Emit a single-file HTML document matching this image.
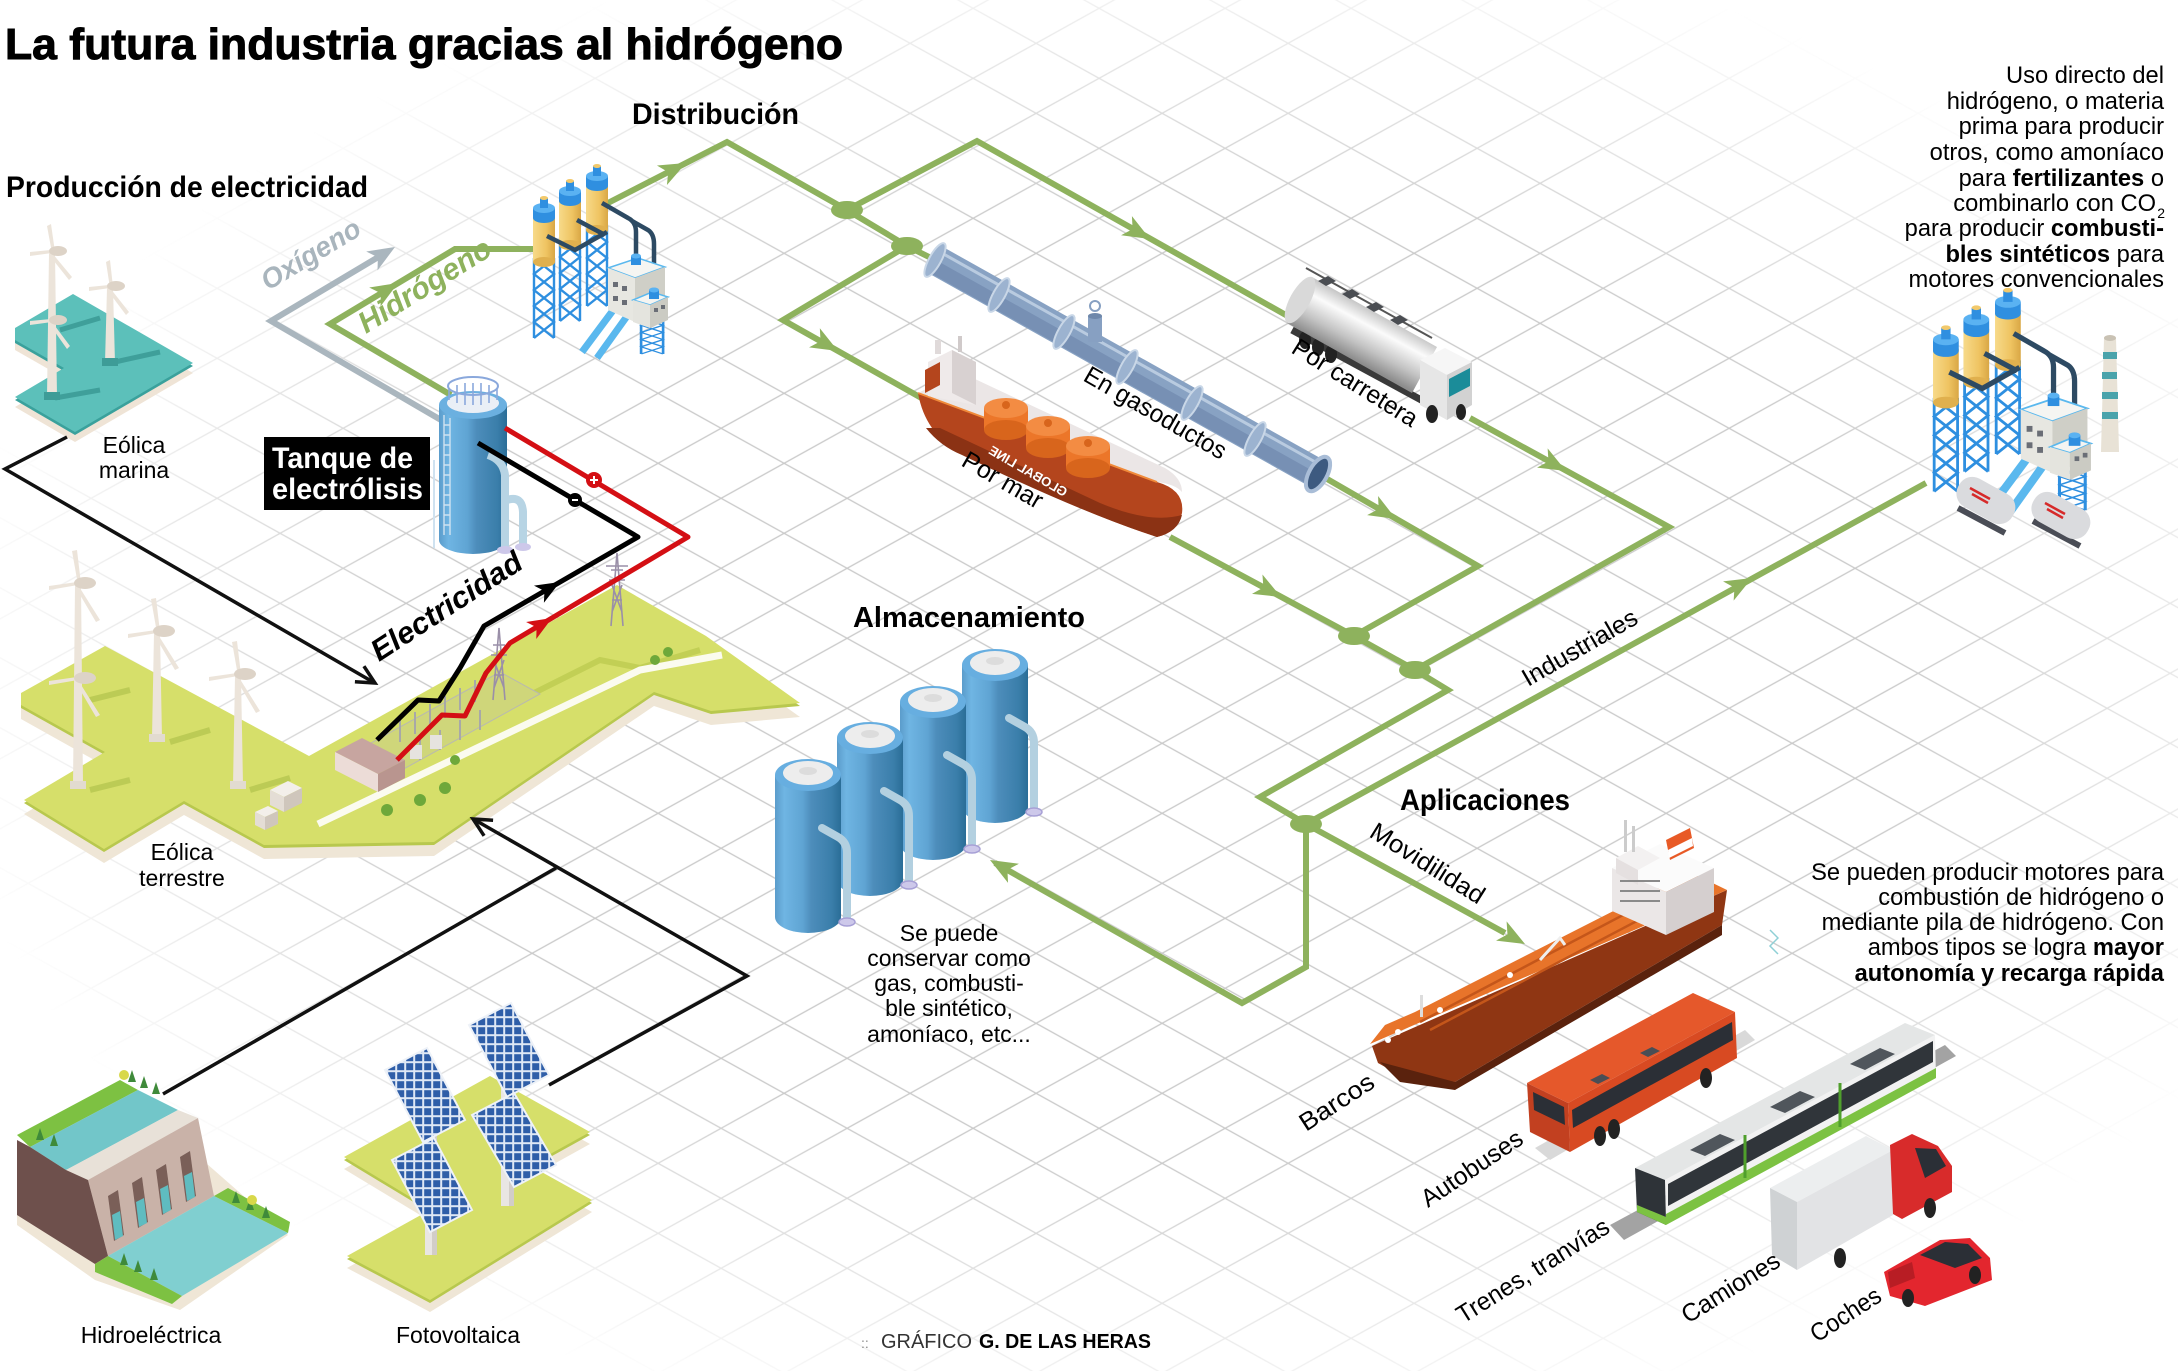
<!DOCTYPE html>
<html><head><meta charset="utf-8"><style>
html,body{margin:0;padding:0;background:#fff;}
svg{display:block;}
text{font-family:"Liberation Sans",Arial,sans-serif;}
</style></head><body>
<svg width="2178" height="1371" viewBox="0 0 2178 1371" xmlns="http://www.w3.org/2000/svg">
<defs>
<pattern id="grid" width="126" height="70" patternUnits="userSpaceOnUse" patternTransform="translate(28.1,43.3)">
<path d="M0,0 L126,70 M0,70 L126,0" stroke="#c9c9c9" stroke-width="1.3" fill="none"/>
</pattern>
<radialGradient id="fade" cx="0.53" cy="0.5" r="0.56">
<stop offset="0" stop-color="#fff"/><stop offset="0.62" stop-color="#fff"/><stop offset="1" stop-color="#000"/>
</radialGradient>
<mask id="gm"><rect width="2178" height="1371" fill="url(#fade)"/></mask>
<linearGradient id="bl" x1="0" y1="0" x2="1" y2="0">
<stop offset="0" stop-color="#5b9ccb"/><stop offset="0.14" stop-color="#6fb5e3"/><stop offset="0.42" stop-color="#5fa4d3"/><stop offset="0.55" stop-color="#4d8dbb"/><stop offset="0.86" stop-color="#3a7eaa"/><stop offset="1" stop-color="#2a6d97"/>
</linearGradient>
<linearGradient id="yel" x1="0" y1="0" x2="1" y2="0">
<stop offset="0" stop-color="#f7da8a"/><stop offset="0.6" stop-color="#efc462"/><stop offset="1" stop-color="#d9a745"/>
</linearGradient>
<linearGradient id="silver" gradientUnits="userSpaceOnUse" x1="1312" y1="277" x2="1287" y2="323">
<stop offset="0" stop-color="#c4c4c4"/><stop offset="0.3" stop-color="#fbfbfb"/><stop offset="0.7" stop-color="#c2c2c2"/><stop offset="1" stop-color="#8d8d8d"/>
</linearGradient>
<pattern id="solar" width="9" height="9" patternUnits="userSpaceOnUse">
<rect width="9" height="9" fill="#dfe8f5"/><rect x="1.2" y="1.2" width="7" height="7" fill="#2f5ea8"/>
</pattern>
<path id="ah" d="M0,0 L-27,-11 L-20,0 L-27,11 Z"/>
<path id="lat" d="M1,0V80 M21,0V80 M1,0L21,16L1,32L21,48L1,64L21,80 M21,0L1,16L21,32L1,48L21,64L1,80" stroke="#2e8fe0" stroke-width="2.4" fill="none"/>
<g id="silo">
<rect x="-11" y="6" width="22" height="46" fill="url(#yel)"/>
<ellipse cx="0" cy="52" rx="11" ry="5" fill="#e0b04e"/>
<path d="M-11,-2 L-11,8 A11,5 0 0 0 11,8 L11,-2 Z" fill="#2f8fe0"/>
<ellipse cx="0" cy="-2" rx="11" ry="5" fill="#5ab2f2"/>
<rect x="-4" y="-12" width="8" height="10" fill="#2f8fe0"/>
<ellipse cx="0" cy="-12" rx="4" ry="2" fill="#f2c96b"/>
</g>
<g id="stank">
<path d="M-33,0 V142 A33,16 0 0 0 33,142 V0 Z" fill="url(#bl)"/>
<ellipse cx="0" cy="0" rx="33" ry="16" fill="#67aee0"/>
<ellipse cx="0" cy="-2" rx="25" ry="12" fill="#ededed"/>
<ellipse cx="0" cy="-4" rx="9" ry="4" fill="#dcdcdc"/>
<path d="M14,53 L30,62 Q39,67 39,78 L39,145" stroke="#b3d0e0" stroke-width="8" fill="none" stroke-linecap="round"/>
<ellipse cx="39" cy="147" rx="8" ry="4" fill="#cdc8ea" stroke="#a7a0d6" stroke-width="1.5"/>
</g>
<g id="factory">
<use href="#lat" x="533" y="258"/>
<use href="#lat" x="559" y="241"/>
<use href="#lat" x="586" y="226"/>
<use href="#silo" x="544" y="210"/>
<use href="#silo" x="570" y="193"/>
<use href="#silo" x="597" y="178"/>
<path d="M547,236 L575,250 L607,232 M577,220 L605,235 M602,203 L628,218 Q636,222 636,232 L636,262 M632,221 L648,230 Q654,234 654,244 L654,294" stroke="#2d4a63" stroke-width="4.5" fill="none"/>
<path d="M582,352 L617,305 M597,358 L630,312" stroke="#5ab8ee" stroke-width="7" fill="none"/>
<use href="#lat" x="640" y="318" transform="translate(640,318) scale(1.1,0.45) translate(-640,-318)"/>
<polygon points="608,268 638,258 665,267 635,278" fill="#f5f5f2" stroke="#5ab8ee" stroke-width="1.5"/>
<polygon points="608,268 635,278 635,322 608,310" fill="#e7e7e1"/>
<polygon points="635,278 665,267 665,312 635,322" fill="#cfcfc7"/>
<rect x="613" y="282" width="5" height="5" fill="#6a6e76"/><rect x="622" y="286" width="5" height="5" fill="#6a6e76"/>
<rect x="613" y="296" width="5" height="5" fill="#6a6e76"/><rect x="622" y="300" width="5" height="5" fill="#6a6e76"/>
<polygon points="633,300 652,292 668,297 650,305" fill="#f5f5f2" stroke="#5ab8ee" stroke-width="1.5"/>
<polygon points="633,300 650,305 650,328 633,322" fill="#e4e4de"/>
<polygon points="650,305 668,297 668,320 650,328" fill="#cbcbc3"/>
<rect x="654" y="308" width="4" height="4" fill="#6a6e76"/><rect x="661" y="305" width="4" height="4" fill="#6a6e76"/>
<rect x="631" y="256" width="10" height="9" fill="#2f8fe0"/><ellipse cx="636" cy="256" rx="5" ry="2.5" fill="#5ab2f2"/>
<rect x="649" y="290" width="10" height="9" fill="#2f8fe0"/><ellipse cx="654" cy="290" rx="5" ry="2.5" fill="#5ab2f2"/>
</g>
</defs>

<rect width="2178" height="1371" fill="#fff"/>
<rect width="2178" height="1371" fill="url(#grid)" mask="url(#gm)"/>

<!-- ============ TITLES ============ -->
<text x="5" y="59" font-size="44" font-weight="bold" stroke="#000" stroke-width="1" textLength="838" lengthAdjust="spacingAndGlyphs">La futura industria gracias al hidrógeno</text>
<text x="6" y="197" font-size="30" font-weight="bold" textLength="362" lengthAdjust="spacingAndGlyphs">Producción de electricidad</text>
<text x="632" y="124" font-size="30" font-weight="bold" textLength="167" lengthAdjust="spacingAndGlyphs">Distribución</text>
<text x="853" y="627" font-size="29" font-weight="bold" textLength="232" lengthAdjust="spacingAndGlyphs">Almacenamiento</text>
<text x="1400" y="810" font-size="30" font-weight="bold" textLength="170" lengthAdjust="spacingAndGlyphs">Aplicaciones</text>

<!-- ============ MARINA PLATES ============ -->
<g>
<polygon points="15,328 73,294 193,363 75,432 15,397 64,368 15,340" transform="translate(0,10)" fill="#efe4d6"/>
<polygon points="15,328 73,294 193,363 75,432 15,397 64,368 15,340" transform="translate(0,3)" fill="#3aa19c"/>
<polygon points="15,328 73,294 193,363 75,432 15,397 64,368 15,340" fill="#5cc0ba"/>
<path d="M60,330 L100,318 M115,362 L160,352 M55,398 L100,390" stroke="#3f9f9a" stroke-width="5" fill="none"/>
</g>
<!-- marina turbines -->
<g fill="#ece4da">
<polygon points="49,253 55,253 57,397 47,397"/>
<polygon points="107,288 113,288 115,363 105,363"/>
<rect x="44" y="392" width="16" height="8" fill="#3e9c97"/>
<rect x="102" y="358" width="16" height="8" fill="#3e9c97"/>
<polygon points="52,253 47,226 51,224 55,252"/>
<polygon points="52,253 30,256 30,252 51,250"/>
<polygon points="52,253 72,277 69,280 50,256"/>
<ellipse cx="58" cy="251" rx="9" ry="5" fill="#ddd3c7"/>
<polygon points="110,288 106,262 110,260 113,287"/>
<polygon points="110,288 89,291 89,287 109,285"/>
<polygon points="110,288 129,312 126,315 108,291"/>
<ellipse cx="116" cy="286" rx="9" ry="5" fill="#ddd3c7"/>
<polygon points="52,322 30,325 30,321 51,319"/>
<polygon points="52,322 70,346 67,349 50,325"/>
<ellipse cx="58" cy="320" rx="9" ry="5" fill="#ddd3c7"/>
</g>
<text x="134" y="453" font-size="23" text-anchor="middle">Eólica</text>
<text x="134" y="478" font-size="23" text-anchor="middle">marina</text>

<!-- ============ LAND (terrestre) ============ -->
<g>
<polygon points="21,693 105,646 309,756 617,585 706,636 800,703 711,711 654,692 434,842 264,845 184,801 104,849 24,800 105,752 21,705" transform="translate(0,14)" fill="#efe6d6"/>
<polygon points="21,693 105,646 309,756 617,585 706,636 800,703 711,711 654,692 434,842 264,845 184,801 104,849 24,800 105,752 21,705" transform="translate(0,3)" fill="#b8c84e"/>
<polygon points="21,693 105,646 309,756 617,585 706,636 800,703 711,711 654,692 434,842 264,845 184,801 104,849 24,800 105,752 21,705" fill="#d6df6a"/>
<path d="M520,700 L600,660 L640,668 L700,650" stroke="#c2cf55" stroke-width="6" fill="none"/>
<polyline points="318,824 640,670 722,655" stroke="#fbfbef" stroke-width="7" fill="none"/>
<path d="M90,700 L130,690 M170,742 L210,730 M250,790 L290,778 M90,790 L130,780" stroke="#bccb55" stroke-width="6" fill="none"/>
</g>
<!-- substation -->
<g>
<polygon points="340,760 500,672 540,694 380,782" fill="#cfd67a" stroke="#b9b9b0" stroke-width="1"/>
<g stroke="#a8a8a8" stroke-width="2" fill="none">
<path d="M400,720 v22 M415,712 v22 M430,704 v22 M445,696 v22 M460,688 v22 M475,680 v22 M420,740 v20 M440,730 v20 M460,720 v20 M480,710 v20"/>
</g>
<rect x="410" y="745" width="12" height="14" fill="#e6e3df"/><rect x="430" y="735" width="12" height="14" fill="#e6e3df"/>
<polygon points="335,752 362,738 405,760 378,774" fill="#c7a5a0"/>
<polygon points="335,752 378,774 378,792 335,770" fill="#ecdcd7"/>
<polygon points="378,774 405,760 405,778 378,792" fill="#b9958f"/>
<polygon points="270,790 288,781 302,788 284,797" fill="#f3efea"/><polygon points="270,790 284,797 284,812 270,805" fill="#e4ddd5"/><polygon points="284,797 302,788 302,803 284,812" fill="#cfc6bc"/>
<polygon points="255,812 268,806 278,811 265,817" fill="#f3efea"/><polygon points="255,812 265,817 265,830 255,825" fill="#e4ddd5"/><polygon points="265,817 278,811 278,824 265,830" fill="#cfc6bc"/>
<g fill="#6ea83a"><circle cx="387" cy="810" r="6"/><circle cx="420" cy="800" r="6"/><circle cx="445" cy="788" r="6"/><circle cx="455" cy="760" r="5"/><circle cx="655" cy="660" r="5"/><circle cx="668" cy="652" r="5"/></g>
<g stroke="#9a8fa8" stroke-width="1.6" fill="none">
<path d="M611,626 L617,553 L623,626 M611,570 L623,570 M609,580 L625,580 M612,600 L622,600 M612,585 L622,612 M622,585 L612,612 M606,566 L628,566"/>
<path d="M493,700 L499,628 L505,700 M493,645 L505,645 M491,655 L507,655 M494,675 L504,675 M494,660 L504,688 M504,660 L494,688"/>
</g>
</g>
<!-- land turbines -->
<g fill="#ece4da">
<polygon points="75,585 81,585 83,785 73,785"/>
<polygon points="154,633 160,633 162,738 152,738"/>
<polygon points="235,676 241,676 243,785 233,785"/>
<rect x="70" y="781" width="16" height="8" fill="#e2dbd0"/>
<rect x="149" y="734" width="16" height="8" fill="#e2dbd0"/>
<rect x="230" y="781" width="16" height="8" fill="#e2dbd0"/>
<polygon points="78,585 72,551 77,550 81,584"/><polygon points="78,585 49,590 49,586 77,582"/><polygon points="78,585 100,620 96,622 76,588"/>
<ellipse cx="85" cy="583" rx="11" ry="6" fill="#ddd3c7"/>
<polygon points="157,633 151,599 156,598 160,632"/><polygon points="157,633 128,638 128,634 156,630"/><polygon points="157,633 179,668 175,670 155,636"/>
<ellipse cx="164" cy="631" rx="11" ry="6" fill="#ddd3c7"/>
<polygon points="238,676 232,642 237,641 241,675"/><polygon points="238,676 209,681 209,677 237,673"/><polygon points="238,676 260,711 256,713 236,679"/>
<ellipse cx="245" cy="674" rx="11" ry="6" fill="#ddd3c7"/>
<polygon points="78,680 49,685 49,681 77,677"/><polygon points="78,680 100,715 96,717 76,683"/>
<ellipse cx="85" cy="678" rx="11" ry="6" fill="#ddd3c7"/>
</g>
<text x="182" y="860" font-size="23" text-anchor="middle">Eólica</text>
<text x="182" y="886" font-size="23" text-anchor="middle">terrestre</text>

<!-- ============ HYDRO ============ -->
<g>
<polygon points="17,1140 125,1082 288,1225 180,1300 95,1270 17,1215" transform="translate(0,10)" fill="#efe6d6"/>
<polygon points="17,1135 120,1080 138,1090 30,1147" fill="#7dc142"/>
<polygon points="30,1147 138,1090 178,1110 66,1170" fill="#72c6c9"/>
<polygon points="66,1170 178,1110 198,1118 88,1180" fill="#e8e1d8"/>
<polygon points="88,1180 198,1118 214,1196 108,1256" fill="#c9b2a8"/>
<g fill="#7a5f58"><polygon points="108,1196 118,1190 124,1235 114,1241"/><polygon points="132,1183 142,1177 148,1222 138,1228"/><polygon points="156,1170 166,1164 172,1209 162,1215"/><polygon points="180,1157 190,1151 196,1196 186,1202"/></g>
<g fill="#5fbcc0"><polygon points="112,1215 120,1211 123,1236 115,1240"/><polygon points="136,1202 144,1198 147,1223 139,1227"/><polygon points="160,1189 168,1185 171,1210 163,1214"/><polygon points="184,1176 192,1172 195,1197 187,1201"/></g>
<polygon points="17,1140 30,1147 66,1170 88,1180 108,1256 95,1264 17,1215" fill="#6e504c"/>
<polygon points="108,1256 214,1196 288,1233 182,1296" fill="#80cfd0"/>
<polygon points="95,1264 108,1256 182,1296 172,1304 95,1272" fill="#7dc142"/>
<polygon points="214,1196 228,1188 290,1222 288,1233" fill="#7dc142"/>
<g fill="#3f8a3a"><path d="M128,1082 l4,-12 l4,12z M140,1088 l4,-12 l4,12z M152,1094 l4,-12 l4,12z M36,1140 l4,-12 l4,12z M50,1146 l4,-12 l4,12z M232,1203 l4,-12 l4,12z M246,1210 l4,-12 l4,12z M262,1218 l4,-12 l4,12z M120,1265 l4,-12 l4,12z M134,1272 l4,-12 l4,12z M150,1280 l4,-12 l4,12z"/></g>
<circle cx="124" cy="1075" r="5" fill="#d8d84a"/><circle cx="252" cy="1200" r="5" fill="#d8d84a"/>
</g>
<text x="151" y="1343" font-size="23" text-anchor="middle">Hidroeléctrica</text>

<!-- ============ SOLAR ============ -->
<g>
<polygon points="344,1157 490,1076 590,1132 440,1215" transform="translate(0,12)" fill="#efe6d6"/>
<polygon points="344,1157 490,1076 590,1132 440,1215" transform="translate(0,3)" fill="#b8c84e"/>
<polygon points="344,1157 490,1076 590,1132 440,1215" fill="#d6df6a"/>
<polygon points="347,1256 520,1160 592,1200 430,1300" transform="translate(0,12)" fill="#efe6d6"/>
<polygon points="347,1256 520,1160 592,1200 430,1300" transform="translate(0,3)" fill="#b8c84e"/>
<polygon points="347,1256 520,1160 592,1200 430,1300" fill="#d6df6a"/>
<rect x="425" y="1125" width="12" height="130" fill="#e9e6e3"/><rect x="432" y="1125" width="5" height="130" fill="#d2cdc8"/>
<rect x="501" y="1070" width="13" height="136" fill="#e9e6e3"/><rect x="509" y="1070" width="5" height="136" fill="#d2cdc8"/>
<polygon points="385,1070 427,1048 465,1120 423,1142" fill="url(#solar)" stroke="#eef2f8" stroke-width="2"/>
<polygon points="469,1025 511,1003 549,1075 507,1097" fill="url(#solar)" stroke="#eef2f8" stroke-width="2"/>
<polygon points="392,1160 434,1138 472,1210 430,1232" fill="url(#solar)" stroke="#eef2f8" stroke-width="2"/>
<polygon points="472,1115 514,1093 556,1165 514,1187" fill="url(#solar)" stroke="#eef2f8" stroke-width="2"/>
</g>
<text x="458" y="1343" font-size="23" text-anchor="middle">Fotovoltaica</text>

<!-- ============ BLACK CONNECTORS (production) ============ -->
<g stroke="#111" stroke-width="3.5" fill="none">
<polyline points="67,437 5,469 373,682"/>
<path d="M-18,-9 L0,0 L-18,9" transform="translate(375,683) rotate(30)"/>
<polyline points="163,1094 556,868"/>
<polyline points="549,1085 747,976 475,820"/>
<path d="M-18,-9 L0,0 L-18,9" transform="translate(473,819) rotate(210)"/>
</g>

<!-- ============ GREEN NETWORK ============ -->
<g stroke="#8eb25d" stroke-width="6" fill="none" stroke-linejoin="miter">
<polyline points="451,395 330,324 455,249 545,249"/>
<polyline points="604,205 727,142 847,210 907,246 935,260"/>
<polyline points="847,210 977,141 1300,323"/>
<polyline points="907,246 783,320 925,400"/>
<polyline points="1315,472 1478,566 1354,636"/>
<polyline points="1470,418 1669,527 1415,670"/>
<polyline points="1170,537 1354,636 1415,670 1448,690 1260,797 1306,824 1306,967 1242,1003 995,863"/>
<polyline points="1306,824 1926,483"/>
<polyline points="1306,824 1505,933"/>
</g>
<g fill="#8eb25d">
<use href="#ah" transform="translate(398,283) rotate(-31)"/>
<use href="#ah" transform="translate(686,163) rotate(-27)"/>
<use href="#ah" transform="translate(838,351) rotate(29.3)"/>
<use href="#ah" transform="translate(1150,239) rotate(29.5)"/>
<use href="#ah" transform="translate(1396,519) rotate(29.9)"/>
<use href="#ah" transform="translate(1566,471) rotate(28.8)"/>
<use href="#ah" transform="translate(1281,597) rotate(28.3)"/>
<use href="#ah" transform="translate(1752,578) rotate(-28.8)"/>
<use href="#ah" transform="translate(990,860) rotate(209.6)"/>
<use href="#ah" transform="translate(1525,944) rotate(28.7)"/>
<ellipse cx="847" cy="210" rx="16" ry="9"/>
<ellipse cx="907" cy="246" rx="16" ry="9"/>
<ellipse cx="1354" cy="636" rx="16" ry="9"/>
<ellipse cx="1415" cy="670" rx="16" ry="9"/>
<ellipse cx="1306" cy="824" rx="16" ry="9"/>
</g>
<!-- oxygen -->
<polyline points="441,420 271,321 380,256" stroke="#aab6be" stroke-width="6" fill="none"/>
<use href="#ah" fill="#aab6be" transform="translate(395,247) rotate(-31)"/>
<text transform="translate(268,291) rotate(-31)" font-size="28" font-weight="bold" font-style="italic" fill="#a9b5bd" textLength="111" lengthAdjust="spacingAndGlyphs">Oxígeno</text>
<text transform="translate(366,334) rotate(-32)" font-size="30" font-weight="bold" font-style="italic" fill="#8eb25d" textLength="151" lengthAdjust="spacingAndGlyphs">Hidrógeno</text>

<!-- ============ ELECTROLYSIS TANK ============ -->
<g>
<path d="M439,405 V540 A34,14 0 0 0 507,540 V405 Z" fill="url(#bl)"/>
<ellipse cx="473" cy="405" rx="34" ry="14" fill="#6bb0e0"/>
<ellipse cx="473" cy="403" rx="26" ry="10" fill="#eaeff6"/>
<path d="M449,400 V388 M457,403 V385 M465,405 V383 M473,405 V383 M481,405 V383 M489,403 V385 M497,400 V388" stroke="#8aa8dc" stroke-width="1.6"/>
<ellipse cx="473" cy="386" rx="25" ry="9" fill="none" stroke="#8aa8dc" stroke-width="2"/>
<path d="M444,415 V535 M450,418 V535 M444,425 H450 M444,435 H450 M444,445 H450 M444,455 H450 M444,465 H450 M444,475 H450 M444,485 H450 M444,495 H450 M444,505 H450 M444,515 H450 M444,525 H450" stroke="#cfe2f0" stroke-width="1.4"/>
<path d="M434,460 V548" stroke="#cfe2f0" stroke-width="2"/>
<path d="M488,455 Q503,460 505,475 L505,548" stroke="#b7d4e4" stroke-width="8" fill="none"/>
<path d="M507,500 Q522,495 523,512 L523,545" stroke="#b7d4e4" stroke-width="8" fill="none"/>
<ellipse cx="505" cy="550" rx="8" ry="4" fill="#cdc8ea"/><ellipse cx="523" cy="547" rx="8" ry="4" fill="#cdc8ea"/>
</g>
<rect x="264" y="437" width="166" height="73" fill="#000"/>
<text x="272" y="468" font-size="30" font-weight="bold" fill="#fff" textLength="141" lengthAdjust="spacingAndGlyphs">Tanque de</text>
<text x="272" y="499" font-size="30" font-weight="bold" fill="#fff" textLength="151" lengthAdjust="spacingAndGlyphs">electrólisis</text>

<!-- electricity lines -->
<polyline points="505,428 688,537 510,643 486,673 465,716 442,715 397,760" stroke="#d40f14" stroke-width="5" fill="none" stroke-linejoin="round"/>
<polyline points="478,443 638,537 484,626 460,668 439,701 418,700 377,740" stroke="#000" stroke-width="5" fill="none" stroke-linejoin="round"/>
<use href="#ah" fill="#d40f14" transform="translate(552,618) rotate(-31) scale(0.9)"/>
<use href="#ah" fill="#000" transform="translate(560,582) rotate(-30) scale(0.9)"/>
<circle cx="594" cy="480" r="8" fill="#d40f14"/><path d="M590,480 H598 M594,476 V484" stroke="#fff" stroke-width="2"/>
<circle cx="575" cy="500" r="7" fill="#000"/><path d="M572,500 H578" stroke="#fff" stroke-width="2"/>
<text transform="translate(379,662) rotate(-33)" font-size="30" font-weight="bold" font-style="italic" textLength="174" lengthAdjust="spacingAndGlyphs">Electricidad</text>

<!-- ============ DISTRIBUTION FACTORY ============ -->
<use href="#factory"/>

<!-- ============ PIPELINE ============ -->
<g>
<line x1="932" y1="258" x2="1318" y2="474" stroke="#88a2c3" stroke-width="30"/>
<line x1="928.6" y1="264" x2="1314.6" y2="480" stroke="#7790b4" stroke-width="14"/>
<line x1="936.4" y1="250" x2="1322.4" y2="466" stroke="#b9cbe0" stroke-width="3"/>
<g fill="#9cb3d0" stroke="#c9d7e7" stroke-width="2">
<ellipse cx="0" cy="0" rx="6" ry="19" transform="translate(935,260) rotate(29)"/>
<ellipse cx="0" cy="0" rx="6" ry="19" transform="translate(999,295) rotate(29)"/>
<ellipse cx="0" cy="0" rx="6" ry="19" transform="translate(1064,332) rotate(29)"/>
<ellipse cx="0" cy="0" rx="6" ry="19" transform="translate(1127,367) rotate(29)"/>
<ellipse cx="0" cy="0" rx="6" ry="19" transform="translate(1192,403) rotate(29)"/>
<ellipse cx="0" cy="0" rx="6" ry="19" transform="translate(1255,439) rotate(29)"/>
</g>
<ellipse cx="0" cy="0" rx="9" ry="19" transform="translate(1318,474) rotate(29)" fill="#3d5a80" stroke="#a9bdd7" stroke-width="4"/>
<rect x="1088" y="316" width="14" height="26" fill="#87a0c2"/>
<ellipse cx="1095" cy="316" rx="7" ry="3" fill="#6f88ab"/>
<circle cx="1095" cy="306" r="5" fill="none" stroke="#87a0c2" stroke-width="2"/>
</g>
<text transform="translate(1082,380) rotate(30)" font-size="25" textLength="160" lengthAdjust="spacingAndGlyphs">En gasoductos</text>

<!-- ============ SHIP (Por mar) ============ -->
<g>
<path d="M918,393 L1157,482 Q1185,490 1182,513 Q1178,532 1157,537 Q1080,512 960,453 Q925,433 918,393 Z" fill="#b4451d"/>
<path d="M926,428 Q940,446 962,455 Q1080,512 1157,537 Q1178,532 1182,515 Q1150,524 1100,503 L940,428 Z" fill="#8b3214"/>
<path d="M918,393 L960,372 L1165,468 Q1182,478 1182,492 Q1175,484 1157,482 Z" fill="#ebe6e6"/>
<path d="M918,393 L1157,482" stroke="#f08a3a" stroke-width="2"/>
<polygon points="928,396 928,362 952,350 976,362 976,405" fill="#efeaea"/>
<polygon points="952,350 976,362 976,405 952,393" fill="#d8d1d1"/>
<polygon points="925,370 940,362 940,385 925,393" fill="#b4451d"/>
<rect x="935" y="340" width="6" height="14" fill="#e0dada"/><rect x="958" y="336" width="4" height="16" fill="#d0caca"/>
<g>
<rect x="984" y="408" width="44" height="22" fill="#ec7629"/><ellipse cx="1006" cy="430" rx="22" ry="10" fill="#d8651c"/><ellipse cx="1006" cy="408" rx="22" ry="10" fill="#f38c43"/><circle cx="1006" cy="405" r="4" fill="#d8651c"/>
<rect x="1026" y="426" width="44" height="22" fill="#ec7629"/><ellipse cx="1048" cy="448" rx="22" ry="10" fill="#d8651c"/><ellipse cx="1048" cy="426" rx="22" ry="10" fill="#f38c43"/><circle cx="1048" cy="423" r="4" fill="#d8651c"/>
<rect x="1066" y="446" width="44" height="22" fill="#ec7629"/><ellipse cx="1088" cy="468" rx="22" ry="10" fill="#d8651c"/><ellipse cx="1088" cy="446" rx="22" ry="10" fill="#f38c43"/><circle cx="1088" cy="443" r="4" fill="#d8651c"/>
</g>
<text transform="translate(1064,497) rotate(30) scale(-1,1)" font-size="13" font-weight="bold" fill="#fff">GLOBAL LINE</text>
</g>
<text transform="translate(960,465) rotate(30)" font-size="25" textLength="89" lengthAdjust="spacingAndGlyphs">Por mar</text>

<!-- ============ TANKER TRUCK ============ -->
<g>
<line x1="1292" y1="330" x2="1425" y2="402" stroke="#3a3a3a" stroke-width="7"/>
<ellipse cx="1305" cy="340" rx="6" ry="9" fill="#222"/><ellipse cx="1318" cy="347" rx="6" ry="9" fill="#222"/><ellipse cx="1331" cy="354" rx="6" ry="9" fill="#222"/>
<polygon points="1312,277 1437,347 1412,393 1287,323" fill="url(#silver)"/>
<ellipse cx="0" cy="0" rx="10" ry="26" transform="translate(1300,300) rotate(29)" fill="#d9d9d9"/>
<polyline points="1306,268 1432,338" stroke="#555" stroke-width="2" fill="none"/>
<g fill="#4a4d52"><polygon points="1318,281 1328,276 1336,281 1326,286"/><polygon points="1342,294 1352,289 1360,294 1350,299"/><polygon points="1366,307 1376,302 1384,307 1374,312"/><polygon points="1390,320 1400,315 1408,320 1398,325"/></g>
<polygon points="1420,360 1445,348 1472,362 1447,375" fill="#f6f6f6"/>
<polygon points="1420,360 1447,375 1447,420 1420,405" fill="#e6e6e6"/>
<polygon points="1447,375 1472,362 1472,405 1447,420" fill="#d2d2d2"/>
<polygon points="1449,379 1470,368 1470,386 1449,397" fill="#1b8c99"/>
<ellipse cx="1432" cy="414" rx="6" ry="9" fill="#222"/><ellipse cx="1461" cy="412" rx="5" ry="8" fill="#222"/>
</g>
<text transform="translate(1290,352) rotate(32)" font-size="25" textLength="143" lengthAdjust="spacingAndGlyphs">Por carretera</text>

<!-- ============ STORAGE ============ -->
<use href="#stank" x="995" y="665"/>
<use href="#stank" x="933" y="702"/>
<use href="#stank" x="870" y="738"/>
<use href="#stank" x="808" y="775"/>
<g font-size="23" text-anchor="middle">
<text x="949" y="941">Se puede</text>
<text x="949" y="966">conservar como</text>
<text x="949" y="991">gas, combusti-</text>
<text x="949" y="1016">ble sintético,</text>
<text x="949" y="1042">amoníaco, etc...</text>
</g>

<!-- ============ RIGHT FACTORY ============ -->
<use href="#factory" transform="translate(1309.4,96) scale(1.17)"/>
<g>
<polygon points="2104,338 2116,338 2119,452 2101,452" fill="#e8e2d6"/>
<rect x="2103" y="352" width="14" height="7" fill="#4aa3ab"/><rect x="2102" y="372" width="15" height="7" fill="#4aa3ab"/><rect x="2102" y="392" width="16" height="7" fill="#4aa3ab"/><rect x="2102" y="412" width="16" height="7" fill="#4aa3ab"/>
<ellipse cx="2110" cy="338" rx="6" ry="3" fill="#c9c2b4"/>
<line x1="1958" y1="508" x2="2005" y2="533" stroke="#4a4d56" stroke-width="6"/>
<line x1="2033" y1="521" x2="2080" y2="546" stroke="#4a4d56" stroke-width="6"/>
<rect x="-30" y="-16" width="62" height="32" rx="15" transform="translate(1985,500) rotate(29)" fill="#dadbde"/>
<rect x="-30" y="-16" width="62" height="32" rx="15" transform="translate(2060,515) rotate(29)" fill="#dadbde"/>
<path d="M1970,488 L1990,499 M1972,494 L1988,503 M2045,503 L2065,514 M2047,509 L2063,518" stroke="#d62a2a" stroke-width="2.5"/>
</g>

<!-- ============ RIGHT TEXTS ============ -->
<g font-size="23.7" text-anchor="end">
<text x="2164" y="83">Uso directo del</text>
<text x="2164" y="109">hidrógeno, o materia</text>
<text x="2164" y="134">prima para producir</text>
<text x="2164" y="160">otros, como amoníaco</text>
<text x="2164" y="186">para <tspan font-weight="bold">fertilizantes</tspan> o</text>
<text x="2156" y="211">combinarlo con CO</text>
<text x="2164" y="236">para producir <tspan font-weight="bold">combusti-</tspan></text>
<text x="2164" y="262"><tspan font-weight="bold">bles sintéticos</tspan> para</text>
<text x="2164" y="287">motores convencionales</text>
<text x="2164" y="880">Se pueden producir motores para</text>
<text x="2164" y="905">combustión de hidrógeno o</text>
<text x="2164" y="930">mediante pila de hidrógeno. Con</text>
<text x="2164" y="955">ambos tipos se logra <tspan font-weight="bold">mayor</tspan></text>
<text x="2164" y="981" font-weight="bold">autonomía y recarga rápida</text>
</g>
<text x="2165" y="218" font-size="14" text-anchor="end">2</text>

<!-- labels on network -->
<text transform="translate(1528,687) rotate(-30)" font-size="25" textLength="129" lengthAdjust="spacingAndGlyphs">Industriales</text>
<text transform="translate(1368,836) rotate(32)" font-size="25" textLength="130" lengthAdjust="spacingAndGlyphs">Movidilidad</text>

<!-- ============ APPLICATION SHIP ============ -->
<g>
<polygon points="1372,1046 1727,890 1722,925 1455,1082 1405,1078 1378,1063" fill="#8f3613"/>
<polygon points="1380,1062 1455,1082 1722,925 1722,935 1455,1090 1400,1082" fill="#5a220d"/>
<polygon points="1370,1044 1385,1025 1415,1012 1690,872 1727,890" fill="#e8742a"/>
<g stroke="#c4561a" stroke-width="2.5"><path d="M1420,1022 L1680,885 M1430,1030 L1690,893"/></g>
<circle cx="1388" cy="1040" r="3" fill="#fff"/><circle cx="1398" cy="1032" r="3" fill="#fff"/><circle cx="1440" cy="1010" r="3" fill="#fff"/><circle cx="1510" cy="975" r="3" fill="#fff"/>
<rect x="1420" y="995" width="3" height="22" fill="#ddd"/>
<path d="M1540,960 L1560,938 L1565,945" stroke="#eee" stroke-width="3" fill="none"/>
<polygon points="1612,868 1660,844 1714,868 1666,892" fill="#fbfbfb"/>
<polygon points="1612,868 1666,892 1666,935 1612,911" fill="#ebe7e7"/>
<polygon points="1666,892 1714,868 1714,912 1666,935" fill="#d5cfcf"/>
<polygon points="1616,858 1638,846 1660,858 1638,870" fill="#f3f1f1"/>
<polygon points="1616,858 1638,870 1638,885 1616,873" fill="#e5e0e0"/>
<polygon points="1666,840 1690,828 1694,848 1670,860" fill="#e85a26"/>
<polygon points="1668,850 1692,838 1693,846 1669,858" fill="#fff"/>
<rect x="1624" y="820" width="3" height="32" fill="#ccc"/><rect x="1632" y="826" width="3" height="26" fill="#ccc"/>
<g fill="#8a8a8a"><rect x="1620" y="880" width="40" height="2"/><rect x="1620" y="890" width="40" height="2"/><rect x="1620" y="900" width="40" height="2"/></g>
</g>
<!-- BUS -->
<g>
<polygon points="1535,1148 1745,1030 1755,1040 1550,1160" fill="#d9d9d9"/>
<polygon points="1527,1083 1693,993 1735,1012 1568,1103" fill="#e5582b"/>
<polygon points="1568,1103 1735,1012 1737,1058 1570,1152" fill="#d84a22"/>
<polygon points="1527,1083 1568,1103 1570,1152 1530,1132" fill="#c24020"/>
<polygon points="1572,1110 1732,1022 1733,1040 1573,1128" fill="#2b2f36"/>
<polygon points="1533,1092 1564,1107 1565,1125 1534,1110" fill="#2b2f36"/>
<ellipse cx="1600" cy="1136" rx="6" ry="10" fill="#222"/><ellipse cx="1614" cy="1129" rx="6" ry="10" fill="#222"/><ellipse cx="1706" cy="1078" rx="6" ry="10" fill="#222"/>
<polygon points="1590,1080 1602,1074 1610,1078 1598,1084" fill="#4a4e55"/><polygon points="1640,1053 1652,1047 1660,1051 1648,1057" fill="#4a4e55"/>
</g>
<!-- TRAM -->
<g>
<polygon points="1610,1225 1945,1045 1956,1056 1624,1240" fill="#a3a3a3"/>
<polygon points="1635,1168 1905,1023 1935,1035 1665,1180" fill="#e4e6e6"/>
<polygon points="1665,1180 1935,1035 1936,1078 1666,1225" fill="#f2f2f2"/>
<polygon points="1668,1184 1933,1041 1933,1062 1668,1206" fill="#30353a"/>
<polygon points="1666,1214 1936,1068 1936,1078 1666,1225" fill="#7cc242"/>
<polygon points="1635,1168 1665,1180 1666,1225 1637,1212" fill="#2e3338"/>
<polygon points="1637,1205 1666,1217 1666,1225 1637,1212" fill="#7cc242"/>
<g fill="#50565c"><polygon points="1690,1150 1720,1134 1735,1140 1705,1156"/><polygon points="1770,1107 1800,1091 1815,1097 1785,1113"/><polygon points="1850,1064 1880,1048 1895,1054 1865,1070"/></g>
<g stroke="#4f9f2c" stroke-width="3"><path d="M1745,1135 V1178 M1840,1083 V1127"/></g>
</g>
<!-- TRUCK -->
<g>
<polygon points="1770,1188 1866,1136 1893,1150 1797,1202" fill="#eceeef"/>
<polygon points="1770,1188 1797,1202 1797,1270 1772,1255" fill="#cfd2d4"/>
<polygon points="1797,1202 1893,1150 1893,1215 1797,1270" fill="#e2e3e5"/>
<polygon points="1890,1145 1912,1134 1938,1146 1952,1166 1952,1192 1902,1219 1893,1214" fill="#d82b2b"/>
<polygon points="1915,1148 1936,1149 1946,1166 1925,1178" fill="#2b2f36"/>
<ellipse cx="1840" cy="1258" rx="6" ry="10" fill="#222"/><ellipse cx="1930" cy="1208" rx="6" ry="10" fill="#222"/>
</g>
<!-- CAR -->
<g>
<polygon points="1884,1272 1940,1240 1970,1238 1990,1258 1992,1280 1925,1306 1890,1296" fill="#e3262e"/>
<polygon points="1920,1255 1945,1242 1968,1244 1982,1258 1955,1268" fill="#2b2f36"/>
<polygon points="1888,1272 1912,1262 1915,1278 1890,1288" fill="#b81d24"/>
<ellipse cx="1908" cy="1298" rx="6" ry="9" fill="#222"/><ellipse cx="1975" cy="1275" rx="6" ry="9" fill="#222"/>
</g>
<path d="M1770,930 L1778,938 L1770,946 L1778,954" stroke="#8fd0d6" stroke-width="1.5" fill="none"/>

<!-- vehicle labels -->
<g font-size="25">
<text transform="translate(1306,1132) rotate(-33)" textLength="84" lengthAdjust="spacingAndGlyphs">Barcos</text>
<text transform="translate(1428,1208) rotate(-34)" textLength="117" lengthAdjust="spacingAndGlyphs">Autobuses</text>
<text transform="translate(1463,1324) rotate(-32)" textLength="175" lengthAdjust="spacingAndGlyphs">Trenes, tranvías</text>
<text transform="translate(1688,1324) rotate(-32)" textLength="111" lengthAdjust="spacingAndGlyphs">Camiones</text>
<text transform="translate(1817,1343) rotate(-33)" textLength="79" lengthAdjust="spacingAndGlyphs">Coches</text>
</g>

<!-- credit -->
<text x="861" y="1348" font-size="14" fill="#888">::</text>
<text x="881" y="1348" font-size="20" fill="#333" textLength="91" lengthAdjust="spacingAndGlyphs">GRÁFICO</text>
<text x="979" y="1348" font-size="20" font-weight="bold" textLength="172" lengthAdjust="spacingAndGlyphs">G. DE LAS HERAS</text>
</svg>
</body></html>
